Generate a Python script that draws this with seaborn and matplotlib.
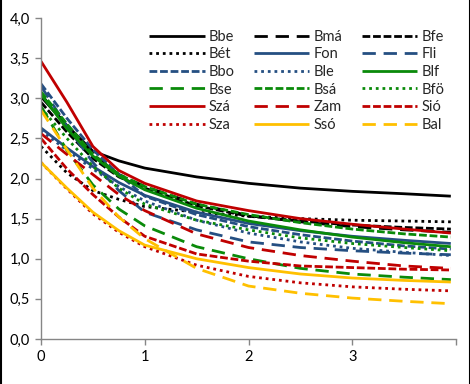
import numpy as np
import pandas as pd
import seaborn as sns
import matplotlib
matplotlib.use("Agg")
import matplotlib.pyplot as plt
from matplotlib.lines import Line2D
from matplotlib.ticker import FuncFormatter

sns.set_theme(style="white")
plt.rcParams['font.family'] = ['Lato', 'DejaVu Sans']

x = [0, 0.25, 0.5, 0.75, 1.0, 1.5, 2.0, 2.5, 3.0, 3.5, 3.95]

names = ["Bbe", "Bmá", "Bfe", "Bét", "Fon", "Fli", "Bbo", "Ble", "Blf",
         "Bse", "Bsá", "Bfö", "Szá", "Zam", "Sió", "Sza", "Ssó", "Bal"]

Bbe = [3.02, 2.66, 2.34, 2.22, 2.13, 2.02, 1.94, 1.88, 1.84, 1.81, 1.78]
Bma = [3.05, 2.65, 2.30, 2.05, 1.90, 1.68, 1.54, 1.46, 1.40, 1.36, 1.33]
Bfe = [2.95, 2.58, 2.25, 2.02, 1.88, 1.66, 1.53, 1.47, 1.42, 1.39, 1.37]
Bet = [2.40, 2.07, 1.85, 1.74, 1.65, 1.58, 1.53, 1.50, 1.48, 1.47, 1.46]
Fon = [2.63, 2.38, 2.15, 1.95, 1.79, 1.58, 1.44, 1.35, 1.28, 1.23, 1.19]
Fli = [3.15, 2.65, 2.20, 1.85, 1.58, 1.36, 1.21, 1.14, 1.10, 1.07, 1.05]
Bbo = [3.18, 2.75, 2.36, 2.05, 1.78, 1.55, 1.40, 1.30, 1.22, 1.16, 1.12]
Ble = [2.60, 2.35, 2.12, 1.90, 1.72, 1.48, 1.32, 1.21, 1.13, 1.08, 1.04]
Blf = [3.05, 2.62, 2.28, 2.03, 1.86, 1.63, 1.47, 1.36, 1.27, 1.20, 1.15]
Bse = [2.90, 2.35, 1.92, 1.62, 1.41, 1.15, 1.00, 0.88, 0.81, 0.77, 0.74]
Bsa = [3.08, 2.68, 2.30, 2.05, 1.90, 1.68, 1.55, 1.45, 1.37, 1.31, 1.27]
Bfo = [2.88, 2.50, 2.15, 1.88, 1.68, 1.48, 1.36, 1.26, 1.19, 1.14, 1.10]
Sza_ = [3.46, 2.95, 2.40, 2.10, 1.94, 1.72, 1.60, 1.50, 1.43, 1.37, 1.32]
Zam = [2.56, 2.30, 2.05, 1.80, 1.60, 1.31, 1.14, 1.04, 0.97, 0.91, 0.88]
Sio = [2.50, 2.12, 1.80, 1.52, 1.28, 1.06, 0.97, 0.91, 0.89, 0.87, 0.86]
Sza = [2.20, 1.87, 1.56, 1.33, 1.15, 0.92, 0.78, 0.70, 0.65, 0.62, 0.60]
Sso = [2.20, 1.88, 1.58, 1.35, 1.17, 1.00, 0.89, 0.81, 0.76, 0.73, 0.71]
Bal = [2.85, 2.36, 1.88, 1.52, 1.25, 0.88, 0.66, 0.57, 0.51, 0.47, 0.44]

series = [Bbe, Bma, Bfe, Bet, Fon, Fli, Bbo, Ble, Blf,
          Bse, Bsa, Bfo, Sza_, Zam, Sio, Sza, Sso, Bal]

BLACK = "#000000"
BLUE = "#254F82"
GREEN = "#0A8A0A"
RED = "#C00000"
YELLOW = "#FFC000"

SOLID = (0, ())
LONG = (0, (4.8, 2.8))
SHORT = (0, (2.8, 1.0))
DOT = (0, (1.0, 1.4))

styles = [
    (BLACK, SOLID), (BLACK, LONG), (BLACK, SHORT),
    (BLACK, DOT), (BLUE, SOLID), (BLUE, LONG),
    (BLUE, SHORT), (BLUE, DOT), (GREEN, SOLID),
    (GREEN, LONG), (GREEN, SHORT), (GREEN, DOT),
    (RED, SOLID), (RED, LONG), (RED, SHORT),
    (RED, DOT), (YELLOW, SOLID), (YELLOW, LONG),
]

fig = plt.figure(figsize=(4.70, 3.84), dpi=100)
ax = fig.add_axes([41/470, 45/384, 415/470, 321/384])

handles = []
for name, vals, (col, ls) in zip(names, series, styles):
    df = pd.DataFrame({"x": x, "y": vals})
    sns.lineplot(data=df, x="x", y="y", ax=ax, color=col, linestyle=ls,
                 linewidth=2.0, legend=False)
    handles.append(Line2D([0], [0], color=col, linestyle=ls, linewidth=2.0))

ax.set_xlim(0, 4)
ax.set_ylim(0, 4)
ax.set_xticks([0, 1, 2, 3, 4])
ax.set_xticklabels(["0", "1", "2", "3", ""])
ax.set_yticks(np.arange(0, 4.01, 0.5))
ax.yaxis.set_major_formatter(FuncFormatter(lambda v, p: f"{v:.1f}".replace(".", ",")))
ax.set_xlabel("")
ax.set_ylabel("")

for s in ["top", "right"]:
    ax.spines[s].set_visible(False)
for s in ["left", "bottom"]:
    ax.spines[s].set_color("#868686")
    ax.spines[s].set_linewidth(1.0)
ax.tick_params(axis="both", which="major", direction="out", length=4,
               width=1.0, color="#868686", labelsize=10.5, labelcolor="#000000",
               left=True, bottom=True, pad=4)
ax.grid(False)

# legend arranged row-wise (3 columns)
order = [r * 3 + c for c in range(3) for r in range(6)]
leg = ax.legend([handles[i] for i in order], [names[i] for i in order],
                ncol=3, loc="upper right", bbox_to_anchor=(1.0, 1.0),
                frameon=False, fontsize=10.5, handlelength=3.8,
                handletextpad=0.3, columnspacing=1.3, labelspacing=0.25,
                borderaxespad=0.4)

# chart border lines left/right
fig.add_artist(Line2D([0.5/470, 0.5/470], [0, 1], color="black", linewidth=1.5,
                      transform=fig.transFigure))
fig.add_artist(Line2D([469.5/470, 469.5/470], [0, 1], color="black", linewidth=1.5,
                      transform=fig.transFigure))

fig.savefig("out.png", dpi=100, facecolor="white")
